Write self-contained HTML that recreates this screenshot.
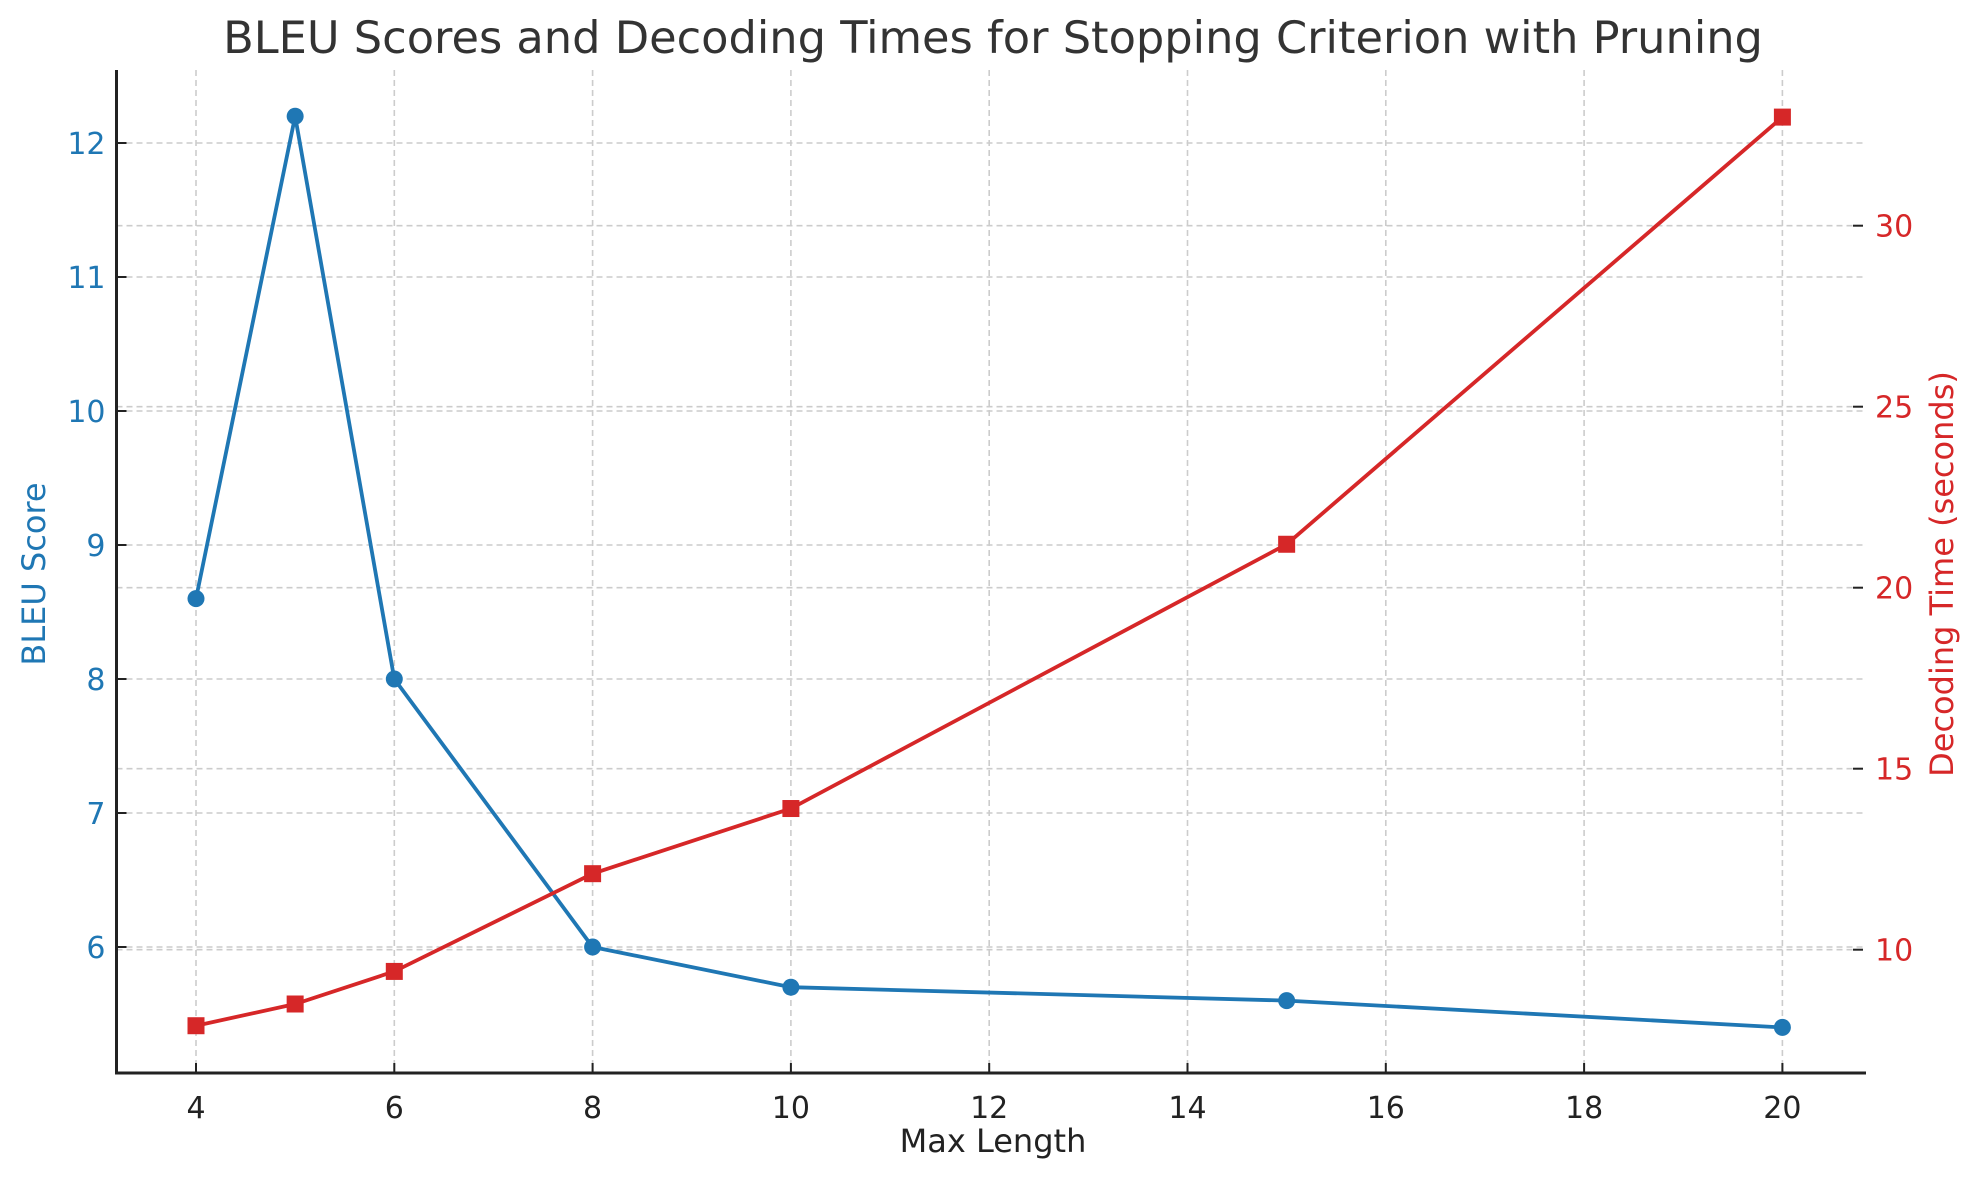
<!DOCTYPE html>
<html><head><meta charset="utf-8"><style>body{margin:0;background:#fff}svg{display:block;font-family:"DejaVu Sans","Liberation Sans",sans-serif}</style></head>
<body>
<svg id="chart" width="1980" height="1180" xmlns="http://www.w3.org/2000/svg">
<g id="grid"></g>
<g id="axes"></g>
<g id="series"></g>
<text x="993" y="53" text-anchor="middle" font-size="44.7" fill="#333">BLEU Scores and Decoding Times for Stopping Criterion with Pruning</text>
<text x="993" y="1152" text-anchor="middle" font-size="32" fill="#222">Max Length</text>
<text x="0" y="0" transform="translate(45,574) rotate(-90)" text-anchor="middle" font-size="32" fill="#1f77b4">BLEU Score</text>
<text x="0" y="0" transform="translate(1953,574) rotate(-90)" text-anchor="middle" font-size="32" fill="#d62728">Decoding Time (seconds)</text>
</svg>
<script>
const maxLengths=[4,5,6,8,10,15,20];
const bleuScores=[8.6,12.2,8.0,6.0,5.7,5.6,5.4];
const decodeTimes=[7.9,8.5,9.4,12.1,13.9,21.2,33.0];
const xTicks=[4,6,8,10,12,14,16,18,20];
const yLeftTicks=[6,7,8,9,10,11,12];
const yRightTicks=[10,15,20,25,30];
const NS="http://www.w3.org/2000/svg";
const L=116.5,R=1866,T=70,B=1073;
function px(v){return 196+(v-4)*99.15;}
function pyL(v){return 947-(v-6)*134;}
function pyR(v){return 225.7+(30-v)*36.2;}
function mk(parent,tag,attrs){const e=document.createElementNS(NS,tag);for(const k in attrs)e.setAttribute(k,attrs[k]);parent.appendChild(e);return e;}
const grid=document.getElementById('grid'),axes=document.getElementById('axes'),series=document.getElementById('series');
xTicks.forEach(t=>{
 const g=mk(grid,'line',{x1:px(t),x2:px(t),y1:T,y2:B,stroke:'#ccc','stroke-width':1.6,'stroke-dasharray':'6,4'});
 
 
 const tk=mk(axes,'line',{x1:px(t),x2:px(t),y1:B,y2:B-10,stroke:'#222','stroke-width':2});
 
 
 const tx=mk(axes,'text',{x:px(t),y:B+45,'text-anchor':'middle','font-size':30,fill:'#222'});tx.textContent=t;
 
 
});
yLeftTicks.forEach(t=>{
 const g=mk(grid,'line',{x1:L,x2:R,y1:pyL(t),y2:pyL(t),stroke:'#ccc','stroke-width':1.6,'stroke-dasharray':'6,4'});
 
 
 const tk=mk(axes,'line',{x1:L,x2:L+10,y1:pyL(t),y2:pyL(t),stroke:'#222','stroke-width':2});
 
 
 const tx=mk(axes,'text',{x:L-11,y:pyL(t)+11,'text-anchor':'end','font-size':30,fill:'#1f77b4'});tx.textContent=t;
 
 
});
yRightTicks.forEach(t=>{
 const g=mk(grid,'line',{x1:L,x2:R-4,y1:pyR(t),y2:pyR(t),stroke:'#ccc','stroke-width':1.6,'stroke-dasharray':'6,4'});
 
 
 const tk=mk(axes,'line',{x1:R-13,x2:R-3,y1:pyR(t),y2:pyR(t),stroke:'#222','stroke-width':2});
 
 
 const tx=mk(axes,'text',{x:R+9,y:pyR(t)+11,'text-anchor':'start','font-size':30,fill:'#d62728'});tx.textContent=t;
 
 
});
const ax1=mk(axes,'line',{x1:L,x2:L,y1:T,y2:B+1.5,stroke:'#222','stroke-width':3});


const ax2=mk(axes,'line',{x1:L-1.5,x2:R,y1:B,y2:B,stroke:'#222','stroke-width':3});


const bl=mk(series,'polyline',{points:maxLengths.map((x,i)=>px(x)+','+pyL(bleuScores[i])).join(' '),fill:'none',stroke:'#1f77b4','stroke-width':3.8});


maxLengths.forEach((x,i)=>{
 const c=mk(series,'circle',{cx:px(x),cy:pyL(bleuScores[i]),r:8.5,fill:'#1f77b4'});
 
 
});
const tl=mk(series,'polyline',{points:maxLengths.map((x,i)=>px(x)+','+pyR(decodeTimes[i])).join(' '),fill:'none',stroke:'#d62728','stroke-width':3.8});


maxLengths.forEach((x,i)=>{
 const s=mk(series,'rect',{x:px(x)-8.5,y:pyR(decodeTimes[i])-8.5,width:17,height:17,fill:'#d62728'});
 
 
});
</script>
</body></html>
